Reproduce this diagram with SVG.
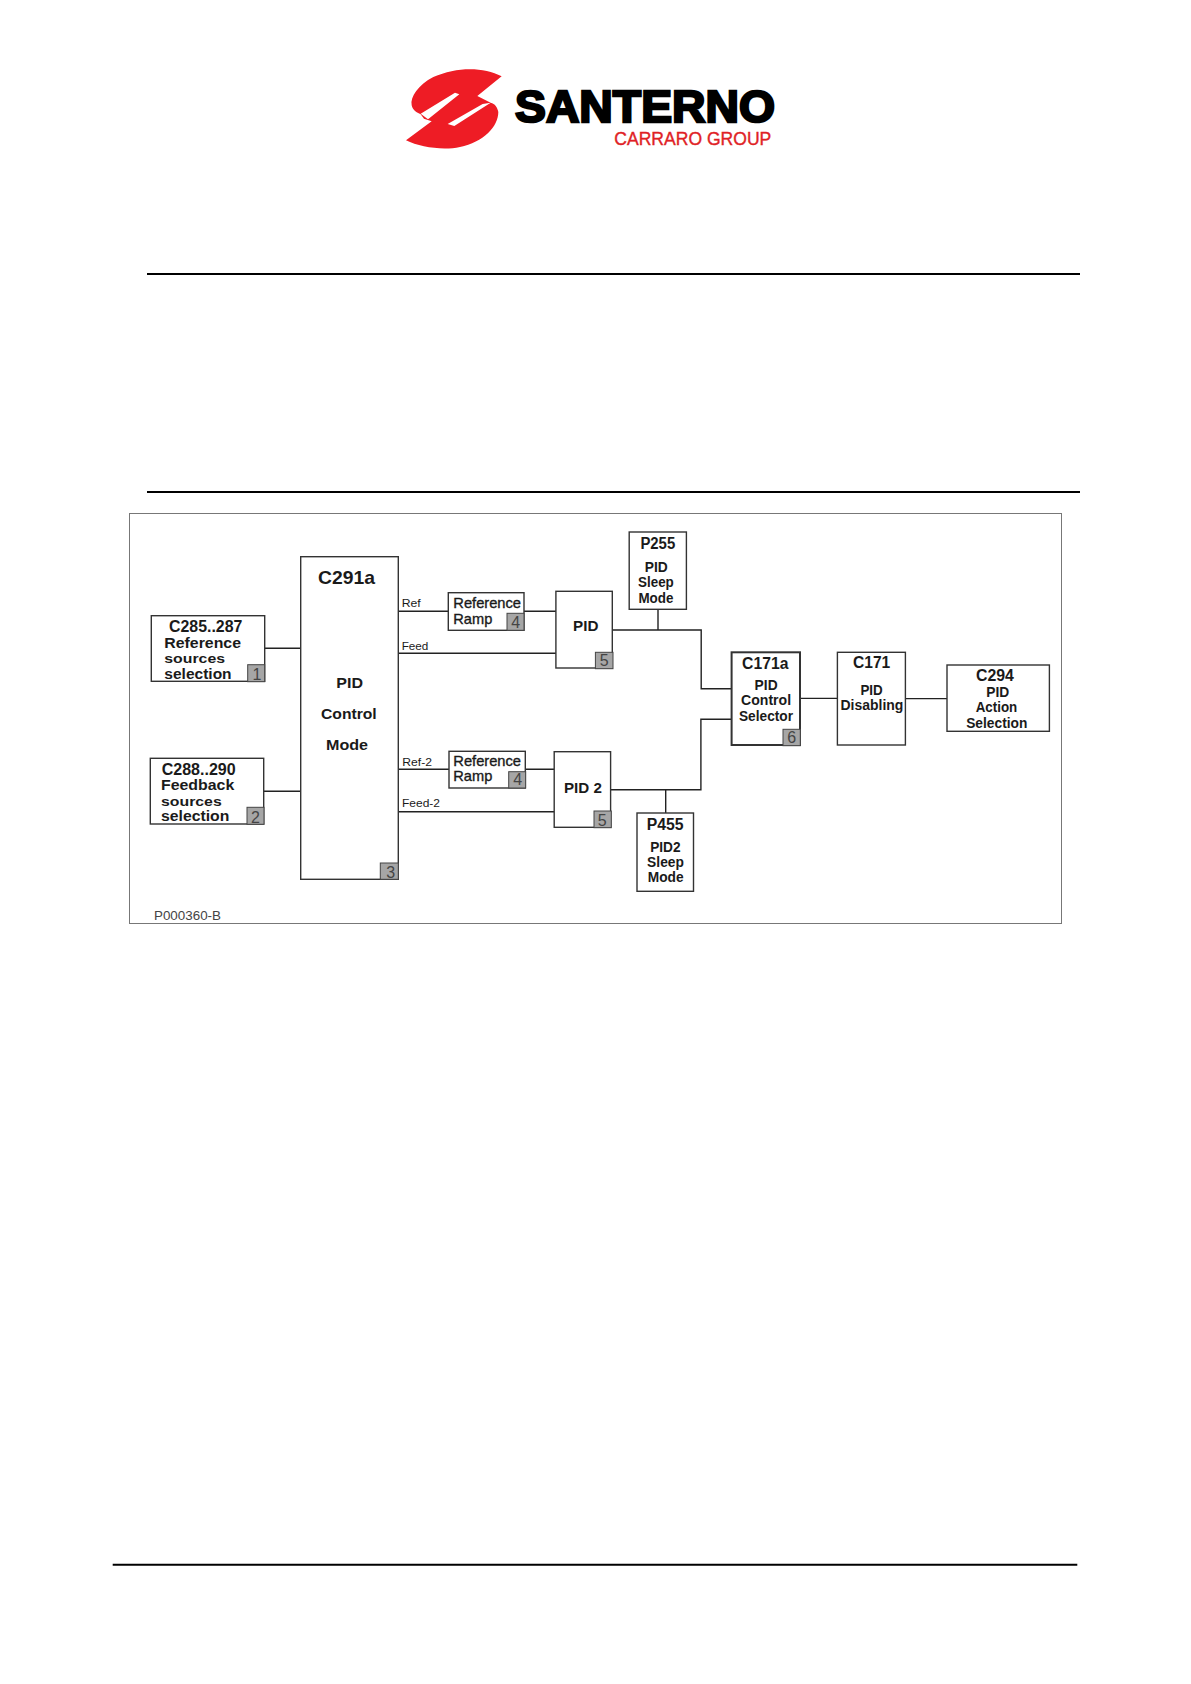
<svg xmlns="http://www.w3.org/2000/svg" width="1191" height="1684" viewBox="0 0 1191 1684">
<style>
text{font-family:"Liberation Sans",Arial,sans-serif;fill:#1a1a1a;text-anchor:start}
.b{fill:#fff;stroke:#333;stroke-width:1.4}
.n{fill:#a6a6a6;stroke:#444;stroke-width:1}
.nt{font-size:16px;fill:#444;text-anchor:middle}
.h{font-weight:700;font-size:16px}
.l{font-weight:700;font-size:14.5px}
.x{font-weight:700;font-size:13px}
.r{font-size:14.5px;stroke:#1a1a1a;stroke-width:.35}
.s{font-size:11.5px}
.c{fill:none;stroke:#222;stroke-width:1.4}
.p{stroke:#000;stroke-width:2}
</style>
<rect width="1191" height="1684" fill="#fff"/>
<g id="logo">
<g transform="translate(400 62) scale(.3333)">
<path d="M305 43C250 14 170 14 100 45C55 68 30 105 35 130C38 145 50 152 62 157L72 170L95 178L18 235C60 256 130 266 180 255C250 240 295 195 295 150C292 135 285 125 272 122L232 102Z" fill="#ee1c25"/>
<path d="M62 155L165 92L178 97L84 172ZM143 186L248 126L272 122L163 192Z" fill="#fff"/>
</g>
<text x="515" y="121.500" style="font-size:45px;font-weight:700;fill:#000;stroke:#000;stroke-width:2.4" textLength="260" lengthAdjust="spacingAndGlyphs">SANTERNO</text>
<text x="614.300" y="145" style="font-size:18.500px;fill:#e01f26;stroke:#e01f26;stroke-width:.4" textLength="157" lengthAdjust="spacingAndGlyphs">CARRARO GROUP</text>
</g>
<g id="page-rules">
<line class="p" x1="147" y1="274" x2="1080" y2="274"/>
<line class="p" x1="147" y1="492" x2="1080" y2="492"/>
<line class="p" x1="112.700" y1="1564.700" x2="1077.300" y2="1564.700"/>
</g>
<rect id="frame" x="129.500" y="513.500" width="932" height="410" fill="#fff" stroke="#777" stroke-width="1"/>
<g id="connectors">
<path class="c" d="M264.700 648.300H300.700M263.700 791.300H300.700"/>
<path class="c" d="M398.300 611.300H448.300M524 611.300H556M398.300 653.300H556"/>
<path class="c" d="M398.300 769.300H449M525.300 769.300H554.200M398.300 811.700H554.200"/>
<path class="c" d="M612.300 630H701.200V688.700H731.600M658 609.300V630"/>
<path class="c" d="M610.600 789.700H700.900V719.300H731.600M665.700 789.700V813"/>
<path class="c" d="M800 698.400H837.400M905.400 698.600H947"/>
</g>
<g id="n-c285">
<rect class="b" x="151.300" y="615.700" width="113.400" height="65.600"/>
<rect class="n" x="247.700" y="664.700" width="17" height="17"/>
<text class="nt" x="257" y="680">1</text>
<text class="h" x="169" y="631.700" textLength="73.300" lengthAdjust="spacingAndGlyphs">C285..287</text>
<text class="l" x="164.300" y="647.700" textLength="76.700" lengthAdjust="spacingAndGlyphs">Reference</text>
<text class="x" x="164.300" y="663.300" textLength="60.700" lengthAdjust="spacingAndGlyphs">sources</text>
<text class="l" x="164.300" y="678.500" textLength="67.300" lengthAdjust="spacingAndGlyphs">selection</text>
</g>
<g id="n-c288">
<rect class="b" x="150.300" y="758.300" width="113.400" height="65.700"/>
<rect class="n" x="247" y="807.300" width="17" height="17"/>
<text class="nt" x="255.500" y="822.700">2</text>
<text class="h" x="161.700" y="775" textLength="74" lengthAdjust="spacingAndGlyphs">C288..290</text>
<text class="l" x="161" y="790" textLength="73.300" lengthAdjust="spacingAndGlyphs">Feedback</text>
<text class="x" x="161" y="805.500" textLength="60.700" lengthAdjust="spacingAndGlyphs">sources</text>
<text class="l" x="161" y="821" textLength="68.300" lengthAdjust="spacingAndGlyphs">selection</text>
</g>
<g id="n-c291a">
<rect class="b" x="300.700" y="556.700" width="97.600" height="322.600"/>
<rect class="n" x="380.300" y="863" width="18" height="16.300"/>
<text class="nt" x="390.700" y="877.700">3</text>
<text x="318" y="584" style="font-weight:700;font-size:19px" textLength="57" lengthAdjust="spacingAndGlyphs">C291a</text>
<text class="l" x="336.300" y="688.300" textLength="26.700" lengthAdjust="spacingAndGlyphs">PID</text>
<text class="l" x="321" y="719.300" textLength="55.700" lengthAdjust="spacingAndGlyphs">Control</text>
<text class="l" x="326" y="750" textLength="42" lengthAdjust="spacingAndGlyphs">Mode</text>
</g>
<g id="edge-labels">
<text class="s" x="401.700" y="607" textLength="19" lengthAdjust="spacingAndGlyphs">Ref</text>
<text class="s" x="401.700" y="650" textLength="26.700" lengthAdjust="spacingAndGlyphs">Feed</text>
<text class="s" x="402.300" y="765.500" textLength="29.700" lengthAdjust="spacingAndGlyphs">Ref-2</text>
<text class="s" x="402" y="807" textLength="38" lengthAdjust="spacingAndGlyphs">Feed-2</text>
</g>
<g id="n-ramp1">
<rect class="b" x="448.300" y="592.700" width="75.700" height="37.600"/>
<rect class="n" x="507" y="613.300" width="17" height="17"/>
<text class="nt" x="515.700" y="628">4</text>
<text class="r" x="453.300" y="608" textLength="67.700" lengthAdjust="spacingAndGlyphs">Reference</text>
<text class="r" x="453.300" y="623.500" textLength="39" lengthAdjust="spacingAndGlyphs">Ramp</text>
</g>
<g id="n-ramp2">
<rect class="b" x="449" y="751.300" width="76.300" height="36.700"/>
<rect class="n" x="508.700" y="771.700" width="17" height="16.300"/>
<text class="nt" x="517.700" y="785.300">4</text>
<text class="r" x="453.300" y="766" textLength="67.700" lengthAdjust="spacingAndGlyphs">Reference</text>
<text class="r" x="453.300" y="781" textLength="39" lengthAdjust="spacingAndGlyphs">Ramp</text>
</g>
<g id="n-pid">
<rect class="b" x="555.900" y="591.300" width="56.400" height="76.700"/>
<rect class="n" x="595.400" y="652.300" width="17.600" height="16.400"/>
<text class="nt" x="604.200" y="666">5</text>
<text class="l" x="573.100" y="631" textLength="25.400" lengthAdjust="spacingAndGlyphs">PID</text>
</g>
<g id="n-pid2">
<rect class="b" x="554.200" y="751.700" width="56.400" height="75.600"/>
<rect class="n" x="594" y="811" width="17.300" height="16.700"/>
<text class="nt" x="602.200" y="826.300">5</text>
<text class="l" x="564" y="793" textLength="37.900" lengthAdjust="spacingAndGlyphs">PID 2</text>
</g>
<g id="n-p255">
<rect class="b" x="629.200" y="532" width="57.200" height="77.300"/>
<text class="h" x="640.400" y="549.300" textLength="34.800" lengthAdjust="spacingAndGlyphs">P255</text>
<text class="l" x="644.800" y="572" textLength="23" lengthAdjust="spacingAndGlyphs">PID</text>
<text class="l" x="638" y="587.300" textLength="35.800" lengthAdjust="spacingAndGlyphs">Sleep</text>
<text class="l" x="638.400" y="603" textLength="35" lengthAdjust="spacingAndGlyphs">Mode</text>
</g>
<g id="n-p455">
<rect class="b" x="637" y="813" width="56.500" height="78.300"/>
<text class="h" x="646.800" y="829.700" textLength="36.800" lengthAdjust="spacingAndGlyphs">P455</text>
<text class="l" x="650.200" y="852" textLength="30.400" lengthAdjust="spacingAndGlyphs">PID2</text>
<text class="l" x="647.100" y="867.300" textLength="36.800" lengthAdjust="spacingAndGlyphs">Sleep</text>
<text class="l" x="647.800" y="882.300" textLength="35.800" lengthAdjust="spacingAndGlyphs">Mode</text>
</g>
<g id="n-c171a">
<rect class="b" style="stroke-width:2" x="731.600" y="652.300" width="68.400" height="92.700"/>
<rect class="n" x="783" y="729.300" width="17.300" height="16.400"/>
<text class="nt" x="791.800" y="742.700">6</text>
<text class="h" x="742.100" y="668.700" textLength="46.300" lengthAdjust="spacingAndGlyphs">C171a</text>
<text class="l" x="754.600" y="689.500" textLength="23" lengthAdjust="spacingAndGlyphs">PID</text>
<text class="l" x="741.100" y="705" textLength="50" lengthAdjust="spacingAndGlyphs">Control</text>
<text class="l" x="739" y="720.500" textLength="54" lengthAdjust="spacingAndGlyphs">Selector</text>
</g>
<g id="n-c171">
<rect class="b" x="837.400" y="652.300" width="68" height="92.700"/>
<text class="h" x="853" y="668" textLength="37.200" lengthAdjust="spacingAndGlyphs">C171</text>
<text class="l" x="860.400" y="695.300" textLength="22.300" lengthAdjust="spacingAndGlyphs">PID</text>
<text class="l" x="840.500" y="710" textLength="62.900" lengthAdjust="spacingAndGlyphs">Disabling</text>
</g>
<g id="n-c294">
<rect class="b" x="947" y="665" width="102.400" height="66.300"/>
<text class="h" x="976" y="681" textLength="37.900" lengthAdjust="spacingAndGlyphs">C294</text>
<text class="l" x="986.200" y="697" textLength="23" lengthAdjust="spacingAndGlyphs">PID</text>
<text class="l" x="975.700" y="712" textLength="41.600" lengthAdjust="spacingAndGlyphs">Action</text>
<text class="l" x="966.200" y="728" textLength="61.200" lengthAdjust="spacingAndGlyphs">Selection</text>
</g>
<text x="154" y="920" style="font-size:13px;fill:#444" textLength="67" lengthAdjust="spacingAndGlyphs">P000360-B</text>
</svg>
